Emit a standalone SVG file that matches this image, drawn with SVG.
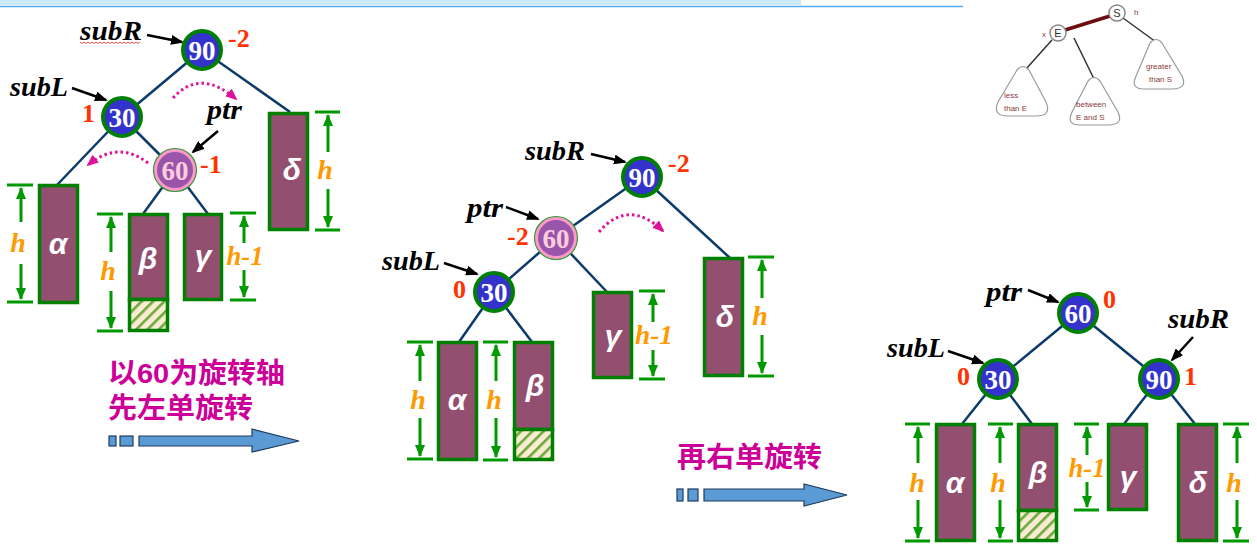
<svg xmlns="http://www.w3.org/2000/svg" width="1257" height="553" viewBox="0 0 1257 553">
<style>
.edge{stroke:#0b3a6b;stroke-width:2.5;fill:none}
.ptr{stroke:#000;stroke-width:2.5;fill:none;marker-end:url(#ah)}
.nb{fill:#3333cc;stroke:#008000;stroke-width:4}
.npo{fill:#ff99cc;stroke:#339933;stroke-width:1.2}
.np{fill:#9955aa}
.nt{font-family:"Liberation Serif",serif;font-weight:bold;font-size:27px;fill:#fff;text-anchor:middle}
.npt{fill:#ffccdd}
.lbl{font-family:"Liberation Serif",serif;font-weight:bold;font-style:italic;font-size:27px;fill:#000}
.bf{font-family:"Liberation Serif",serif;font-weight:bold;font-size:26px;fill:#ff3300}
.box{fill:#934f70;stroke:#008000;stroke-width:3.5}
.hatch{fill:url(#hp);stroke:#008000;stroke-width:3.5}
.gk{font-family:"Liberation Sans",sans-serif;font-weight:bold;font-style:italic;font-size:30px;fill:#fff;text-anchor:middle}
.dl{stroke:#009900;stroke-width:3}
.da{stroke:#009900;stroke-width:3;marker-end:url(#dah)}
.h{font-family:"Liberation Serif",serif;font-weight:bold;font-style:italic;font-size:28px;fill:#ff9900;text-anchor:middle}
.cn{font-family:"Liberation Sans","Noto Sans CJK SC",sans-serif;font-weight:bold;font-size:28px;fill:#cc0099}
.rot{fill:none;stroke:#dd1199;stroke-width:3;stroke-dasharray:2.5 3;marker-end:url(#rah)}
.big{fill:#5b9bd5;stroke:#1f3a5f;stroke-width:1.2}
.ins{font-family:"Liberation Sans",sans-serif;font-size:8px;fill:#8b3a3a}
.tri{fill:#fff;stroke:#9a9a9a;stroke-width:1.2}
</style>
<defs>
<marker id="ah" markerUnits="userSpaceOnUse" markerWidth="13" markerHeight="10" refX="11" refY="5" orient="auto"><path d="M0,0 L13,5 L0,10 z" fill="#000"/></marker>
<marker id="dah" markerUnits="userSpaceOnUse" markerWidth="12" markerHeight="10" refX="11" refY="5" orient="auto"><path d="M0,0 L12,5 L0,10 z" fill="#009900"/></marker>
<marker id="rah" markerUnits="userSpaceOnUse" markerWidth="12" markerHeight="10" refX="10" refY="5" orient="auto"><path d="M0,0 L12,5 L0,10 z" fill="#dd1199"/></marker>
<pattern id="hp" patternUnits="userSpaceOnUse" width="8" height="8" patternTransform="rotate(45)"><rect width="8" height="8" fill="#fcebd4"/><rect x="0" y="0" width="2.6" height="8" fill="#6aaa3a"/></pattern>
</defs>

<rect x="0" y="0" width="801" height="5" fill="#cde9fc"/>
<line x1="0" y1="6.5" x2="963" y2="6.5" stroke="#55aaee" stroke-width="1.5"/>

<g id="connectors">
<line class="edge" x1="202" y1="50" x2="122" y2="117"/>
<line class="edge" x1="202" y1="50" x2="290" y2="112"/>
<line class="edge" x1="122" y1="117" x2="57" y2="185"/>
<line class="edge" x1="122" y1="117" x2="175" y2="170"/>
<line class="edge" x1="175" y1="170" x2="143" y2="214"/>
<line class="edge" x1="175" y1="170" x2="208" y2="214"/>
<line class="edge" x1="642" y1="177" x2="556" y2="238"/>
<line class="edge" x1="642" y1="177" x2="730" y2="258"/>
<line class="edge" x1="556" y1="238" x2="494" y2="292"/>
<line class="edge" x1="556" y1="238" x2="607" y2="292"/>
<line class="edge" x1="494" y1="292" x2="459" y2="342"/>
<line class="edge" x1="494" y1="292" x2="532" y2="342"/>
<line class="edge" x1="1078" y1="313" x2="998" y2="379"/>
<line class="edge" x1="1078" y1="313" x2="1159" y2="379"/>
<line class="edge" x1="998" y1="379" x2="962" y2="424"/>
<line class="edge" x1="998" y1="379" x2="1032" y2="424"/>
<line class="edge" x1="1159" y1="379" x2="1124" y2="424"/>
<line class="edge" x1="1159" y1="379" x2="1195" y2="424"/>
<line class="ptr" x1="147" y1="35" x2="182" y2="42"/>
<line class="ptr" x1="72" y1="88" x2="106" y2="100"/>
<line class="ptr" x1="218" y1="131" x2="193" y2="152"/>
<line class="ptr" x1="591" y1="154" x2="625" y2="162"/>
<line class="ptr" x1="506" y1="207" x2="538" y2="219"/>
<line class="ptr" x1="444" y1="263" x2="477" y2="274"/>
<line class="ptr" x1="1028" y1="290" x2="1058" y2="302"/>
<line class="ptr" x1="948" y1="351" x2="983" y2="363"/>
<line class="ptr" x1="1193" y1="337" x2="1172" y2="360"/>
<path class="rot" d="M173,98 Q200,68 236,99"/>
<path class="rot" d="M148,163 Q118,140 88,165"/>
<path class="rot" d="M599,232 Q628,198 663,231"/>
</g>

<!-- Diagram 1 -->
<g id="d1-labels">
<text class="lbl" x="80" y="40" textLength="62" lengthAdjust="spacingAndGlyphs">subR</text>
<path d="M80,42 l2,1.5 l2,-1.5 l2,1.5 l2,-1.5 l2,1.5 l2,-1.5 l2,1.5 l2,-1.5 l2,1.5 l2,-1.5 l2,1.5 l2,-1.5 l2,1.5 l2,-1.5 l2,1.5 l2,-1.5 l2,1.5 l2,-1.5 l2,1.5 l2,-1.5 l2,1.5 l2,-1.5 l2,1.5 l2,-1.5 l2,1.5 l2,-1.5 l2,1.5 l2,-1.5 l2,1.5 l2,-1.5" fill="none" stroke="#e04040" stroke-width="0.9"/>
<text class="lbl" x="10" y="96" textLength="58" lengthAdjust="spacingAndGlyphs">subL</text>
<text class="lbl" x="207" y="119" textLength="35" lengthAdjust="spacingAndGlyphs">ptr</text>
<text class="bf" x="228" y="47" font-size="23">-2</text>
<text class="bf" x="82" y="122" font-size="28">1</text>
<text class="bf" x="200" y="173">-1</text>
</g>
<g id="d1-n90"><circle class="nb" cx="202" cy="50" r="19"/><text class="nt" x="202" y="60">90</text></g>
<g id="d1-n30"><circle class="nb" cx="122" cy="117" r="19"/><text class="nt" x="122" y="127">30</text></g>
<g id="d1-n60"><circle class="npo" cx="175" cy="170" r="21.5"/><circle class="np" cx="175" cy="170" r="18"/><text class="nt npt" x="175" y="180">60</text></g>
<g id="d1-alpha"><rect class="box" x="39.5" y="185.5" width="38" height="117"/><text class="gk" x="58" y="254">α</text>
<line class="dl" x1="7" y1="185" x2="33" y2="185"/><line class="dl" x1="7" y1="302" x2="33" y2="302"/>
<line class="da" x1="21" y1="222" x2="21" y2="188"/><line class="da" x1="21" y1="264" x2="21" y2="299"/><text class="h" x="18" y="252">h</text></g>
<g id="d1-beta"><rect class="box" x="129.5" y="214.5" width="38" height="85"/><rect class="hatch" x="129.5" y="299.5" width="38" height="31"/><text class="gk" x="148" y="269">β</text>
<line class="dl" x1="97" y1="214" x2="123" y2="214"/><line class="dl" x1="97" y1="331" x2="123" y2="331"/>
<line class="da" x1="111" y1="252" x2="111" y2="217"/><line class="da" x1="111" y1="291" x2="111" y2="328"/><text class="h" x="108" y="280">h</text></g>
<g id="d1-gamma"><rect class="box" x="184.5" y="214.5" width="37" height="85"/><text class="gk" x="203" y="266">γ</text>
<line class="dl" x1="230" y1="213" x2="256" y2="213"/><line class="dl" x1="230" y1="300" x2="256" y2="300"/>
<line class="da" x1="244" y1="243" x2="244" y2="216"/><line class="da" x1="244" y1="270" x2="244" y2="297"/><text class="h" x="245" y="265" textLength="37" lengthAdjust="spacingAndGlyphs">h-1</text></g>
<g id="d1-delta"><rect class="box" x="269.5" y="113.5" width="38" height="116"/><text class="gk" x="292" y="180">δ</text>
<line class="dl" x1="315" y1="112" x2="340" y2="112"/><line class="dl" x1="315" y1="230" x2="340" y2="230"/>
<line class="da" x1="328" y1="152" x2="328" y2="115"/><line class="da" x1="328" y1="189" x2="328" y2="227"/><text class="h" x="325" y="179">h</text></g>
<g id="step1">
<text class="cn" x="108" y="383" textLength="177" lengthAdjust="spacingAndGlyphs">以60为旋转轴</text>
<text class="cn" x="108" y="418" textLength="145" lengthAdjust="spacingAndGlyphs">先左单旋转</text>
<rect class="big" x="109" y="436" width="7" height="10"/><rect class="big" x="120" y="436" width="13" height="10"/>
<polygon class="big" points="139,436 252,436 252,429 299,441 252,452 252,446 139,446"/>
</g>

<!-- Diagram 2 -->
<g id="d2-labels">
<text class="lbl" x="525" y="160" textLength="60" lengthAdjust="spacingAndGlyphs">subR</text>
<text class="lbl" x="467" y="217" textLength="36" lengthAdjust="spacingAndGlyphs">ptr</text>
<text class="lbl" x="382" y="270" textLength="58" lengthAdjust="spacingAndGlyphs">subL</text>
<text class="bf" x="668" y="172" font-size="23">-2</text>
<text class="bf" x="507" y="245" font-size="24">-2</text>
<text class="bf" x="453" y="298" font-size="24">0</text>
</g>
<g id="d2-n90"><circle class="nb" cx="642" cy="177" r="19"/><text class="nt" x="642" y="187">90</text></g>
<g id="d2-n60"><circle class="npo" cx="556" cy="238" r="21.5"/><circle class="np" cx="556" cy="238" r="18"/><text class="nt npt" x="556" y="248">60</text></g>
<g id="d2-n30"><circle class="nb" cx="494" cy="292" r="19"/><text class="nt" x="494" y="302">30</text></g>
<g id="d2-alpha"><rect class="box" x="438.5" y="342.5" width="38" height="117"/><text class="gk" x="457" y="410">α</text>
<line class="dl" x1="407" y1="342" x2="433" y2="342"/><line class="dl" x1="407" y1="459" x2="433" y2="459"/>
<line class="da" x1="420" y1="381" x2="420" y2="345"/><line class="da" x1="420" y1="418" x2="420" y2="456"/><text class="h" x="418" y="409">h</text></g>
<g id="d2-beta"><rect class="box" x="514.5" y="342.5" width="38" height="87"/><rect class="hatch" x="514.5" y="429.5" width="38" height="30"/><text class="gk" x="535" y="396">β</text>
<line class="dl" x1="483" y1="342" x2="508" y2="342"/><line class="dl" x1="483" y1="460" x2="508" y2="460"/>
<line class="da" x1="496" y1="381" x2="496" y2="345"/><line class="da" x1="496" y1="418" x2="496" y2="457"/><text class="h" x="494" y="409">h</text></g>
<g id="d2-gamma"><rect class="box" x="593.5" y="292.5" width="38" height="85"/><text class="gk" x="613" y="346">γ</text>
<line class="dl" x1="639" y1="291" x2="665" y2="291"/><line class="dl" x1="639" y1="379" x2="665" y2="379"/>
<line class="da" x1="653" y1="322" x2="653" y2="294"/><line class="da" x1="653" y1="350" x2="653" y2="376"/><text class="h" x="654" y="344" textLength="38" lengthAdjust="spacingAndGlyphs">h-1</text></g>
<g id="d2-delta"><rect class="box" x="704.5" y="258.5" width="38" height="117"/><text class="gk" x="725" y="327">δ</text>
<line class="dl" x1="748" y1="257" x2="774" y2="257"/><line class="dl" x1="748" y1="376" x2="774" y2="376"/>
<line class="da" x1="762" y1="298" x2="762" y2="260"/><line class="da" x1="762" y1="335" x2="762" y2="373"/><text class="h" x="760" y="325">h</text></g>
<g id="step2">
<text class="cn" x="677" y="467" textLength="145" lengthAdjust="spacingAndGlyphs">再右单旋转</text>
<rect class="big" x="677" y="489" width="6" height="12"/><rect class="big" x="688" y="489" width="10" height="12"/>
<polygon class="big" points="704,489 804,489 804,484 847,495 804,506 804,501 704,501"/>
</g>

<!-- Diagram 3 -->
<g id="d3-labels">
<text class="lbl" x="986" y="301" textLength="36" lengthAdjust="spacingAndGlyphs">ptr</text>
<text class="lbl" x="887" y="357" textLength="58" lengthAdjust="spacingAndGlyphs">subL</text>
<text class="lbl" x="1168" y="328" textLength="61" lengthAdjust="spacingAndGlyphs">subR</text>
<text class="bf" x="1103" y="308" font-size="24">0</text>
<text class="bf" x="957" y="385" font-size="24">0</text>
<text class="bf" x="1184" y="385" font-size="26">1</text>
</g>
<g id="d3-n60"><circle class="nb" cx="1078" cy="313" r="19"/><text class="nt" x="1078" y="323">60</text></g>
<g id="d3-n30"><circle class="nb" cx="998" cy="379" r="19"/><text class="nt" x="998" y="389">30</text></g>
<g id="d3-n90"><circle class="nb" cx="1159" cy="379" r="19"/><text class="nt" x="1159" y="389">90</text></g>
<g id="d3-alpha"><rect class="box" x="936.5" y="424.5" width="38" height="116"/><text class="gk" x="955" y="493">α</text>
<line class="dl" x1="905" y1="424" x2="930" y2="424"/><line class="dl" x1="905" y1="541" x2="930" y2="541"/>
<line class="da" x1="918" y1="463" x2="918" y2="427"/><line class="da" x1="918" y1="500" x2="918" y2="538"/><text class="h" x="917" y="492">h</text></g>
<g id="d3-beta"><rect class="box" x="1018.5" y="424.5" width="38" height="86"/><rect class="hatch" x="1018.5" y="510.5" width="38" height="30"/><text class="gk" x="1038" y="483">β</text>
<line class="dl" x1="988" y1="424" x2="1013" y2="424"/><line class="dl" x1="988" y1="541" x2="1013" y2="541"/>
<line class="da" x1="1000" y1="463" x2="1000" y2="427"/><line class="da" x1="1000" y1="500" x2="1000" y2="538"/><text class="h" x="998" y="492">h</text></g>
<g id="d3-gamma"><rect class="box" x="1108.5" y="424.5" width="38" height="85"/><text class="gk" x="1128" y="487">γ</text>
<line class="dl" x1="1074" y1="424" x2="1099" y2="424"/><line class="dl" x1="1074" y1="510" x2="1099" y2="510"/>
<line class="da" x1="1087" y1="455" x2="1087" y2="427"/><line class="da" x1="1087" y1="482" x2="1087" y2="507"/><text class="h" x="1087" y="477" textLength="37" lengthAdjust="spacingAndGlyphs">h-1</text></g>
<g id="d3-delta"><rect class="box" x="1178.5" y="424.5" width="38" height="116"/><text class="gk" x="1198" y="493">δ</text>
<line class="dl" x1="1223" y1="424" x2="1249" y2="424"/><line class="dl" x1="1223" y1="541" x2="1249" y2="541"/>
<line class="da" x1="1237" y1="463" x2="1237" y2="427"/><line class="da" x1="1237" y1="500" x2="1237" y2="538"/><text class="h" x="1234" y="492">h</text></g>

<!-- inset -->
<g id="inset">
<line x1="1052" y1="40" x2="1026" y2="69" stroke="#333" stroke-width="1.5"/>
<line x1="1074" y1="38" x2="1094" y2="79" stroke="#333" stroke-width="1.5"/>
<line x1="1123" y1="18" x2="1156" y2="42" stroke="#333" stroke-width="1.5"/>
<line x1="1065" y1="30" x2="1110" y2="16" stroke="#6e0d0d" stroke-width="3.5"/>
<path class="tri" d="M1017,70 Q1023,63 1029,70 L1046,102 Q1052,116 1036,116 L1008,116 Q992,116 998,102 Z"/>
<path class="tri" d="M1088,81 Q1094,74 1100,81 L1118,112 Q1124,125 1108,125 L1080,125 Q1066,125 1072,112 Z"/>
<path class="tri" d="M1150,43 Q1156,36 1162,43 L1182,76 Q1188,89 1172,89 L1144,89 Q1130,89 1136,76 Z"/>
<circle cx="1058" cy="33" r="8" fill="#fff" stroke="#888" stroke-width="1.5"/>
<circle cx="1117" cy="13" r="8" fill="#fff" stroke="#888" stroke-width="1.5"/>
<text x="1058" y="37" font-family="Liberation Sans,sans-serif" font-size="11" fill="#333" text-anchor="middle">E</text>
<text x="1117" y="17" font-family="Liberation Sans,sans-serif" font-size="11" fill="#333" text-anchor="middle">S</text>
<text x="1042" y="37" class="ins" fill="#555">x</text>
<text x="1134" y="15" class="ins">h</text>
<text x="1004" y="98" class="ins">less</text>
<text x="1004" y="111" class="ins">than E</text>
<text x="1076" y="107" class="ins">between</text>
<text x="1076" y="120" class="ins">E and S</text>
<text x="1146" y="69" class="ins">greater</text>
<text x="1149" y="82" class="ins">than S</text>
</g>
</svg>
